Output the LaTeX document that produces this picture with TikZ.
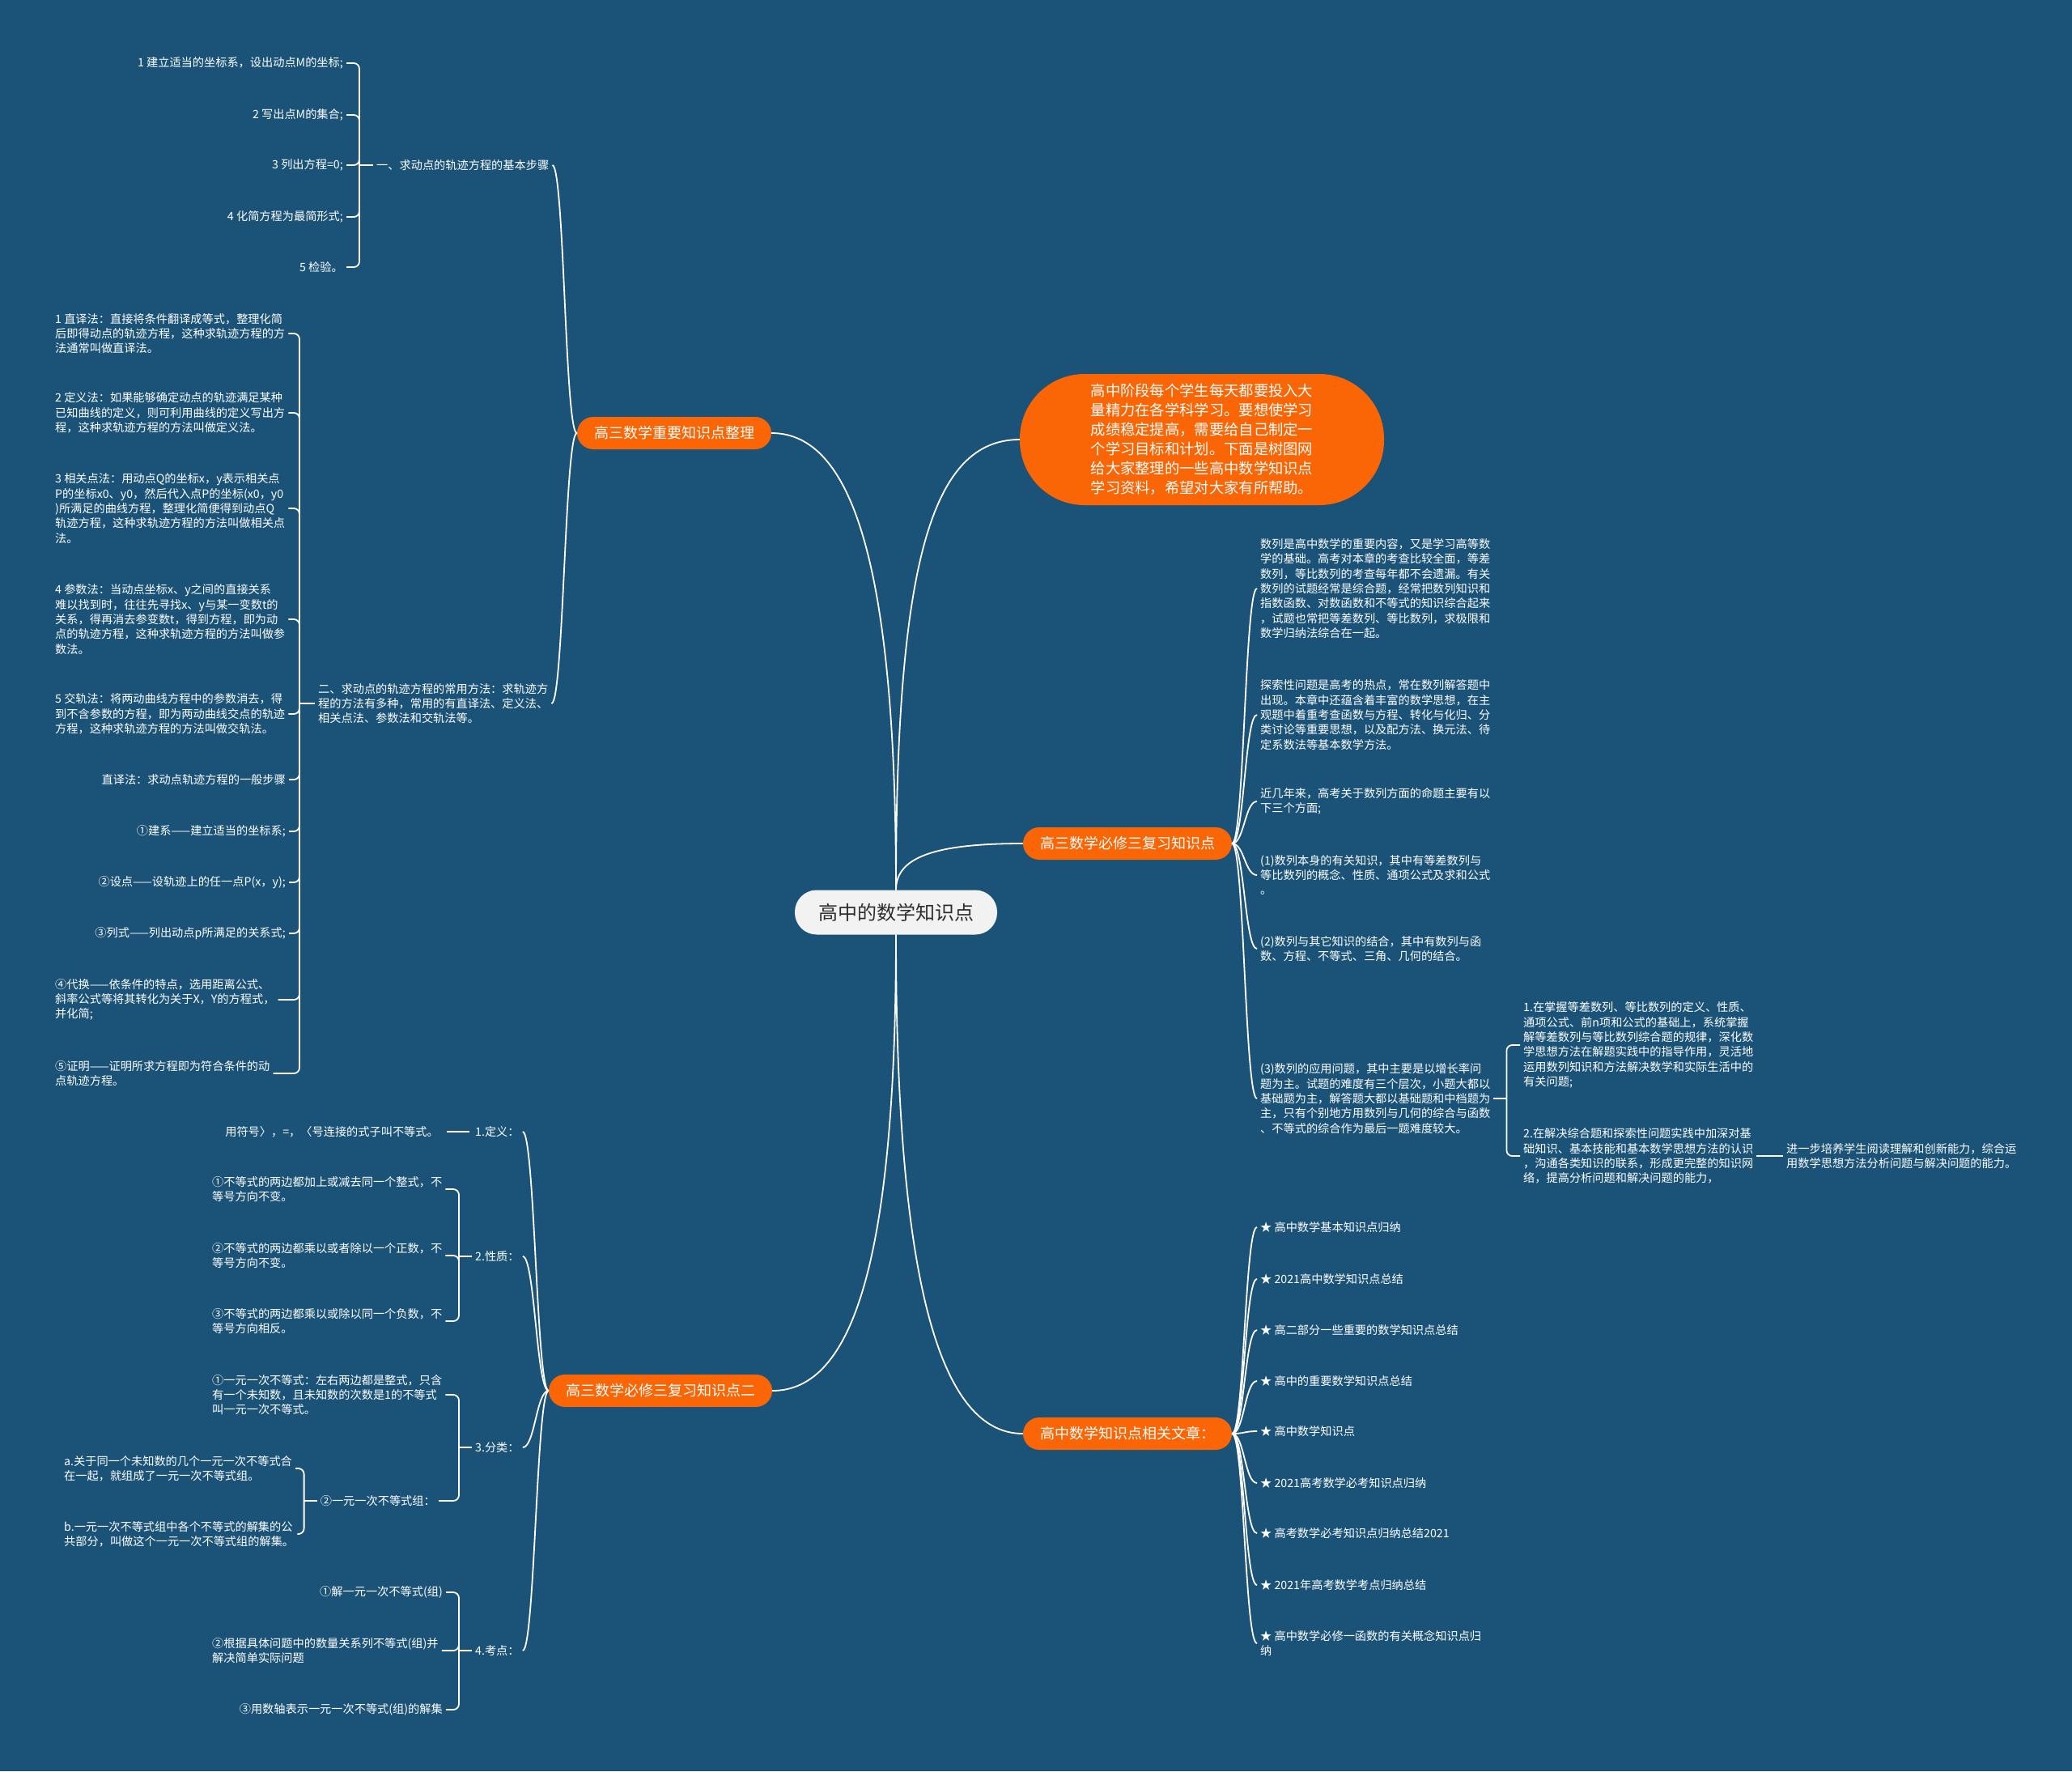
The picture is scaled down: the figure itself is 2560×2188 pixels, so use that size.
\documentclass[tikz,border=0pt]{standalone}
\usepackage{fontspec}
\setmainfont{Noto Sans CJK SC}
\usepackage{tikz}
\usetikzlibrary{calc}
\definecolor{DeepB} {RGB}{26, 83, 119}
\definecolor{Orng}  {RGB}{250,101,  5}
\definecolor{PaleG} {RGB}{242,242,242}
\definecolor{InkD}  {RGB}{45,  45, 45}

\begin{document}
\begin{tikzpicture}[x=1pt,y=-1pt,
  link/.style={white,line width=1.8pt},
  brk/.style={white,line width=1.8pt,rounded corners=7pt},
  leaf/.style={text=white,font=\fontsize{14.2}{18.3}\selectfont,inner sep=4pt,align=left},
  topic/.style={fill=Orng,text=white,font=\fontsize{18}{24}\selectfont,rounded corners=20pt,
    minimum height=40pt,inner xsep=21pt,inner ysep=0pt}]
\fill[DeepB] (0,0) rectangle (2560,2188);

\node[fill=PaleG,text=InkD,font=\fontsize{24}{28}\selectfont,minimum width=250pt,
  minimum height=55pt,rounded corners=27pt] (root) at (1107,1127) {高中的数学知识点};
\node[topic] (b1) at (833,535) {高三数学重要知识点整理};
\node[topic] (b2) at (816,1718) {高三数学必修三复习知识点二};
\node[topic] (b3) at (1393,1042) {高三数学必修三复习知识点};
\node[topic] (b4) at (1393,1771) {高中数学知识点相关文章：};
\node[fill=Orng,text=white,font=\fontsize{18.3}{24}\selectfont,align=left,minimum width=450pt,
  minimum height=162pt,rounded corners=80pt] (intro) at (1485,543)
  {高中阶段每个学生每天都要投入大\\量精力在各学科学习。要想使学习\\成绩稳定提高，需要给自己制定一\\个学习目标和计划。下面是树图网\\给大家整理的一些高中数学知识点\\学习资料，希望对大家有所帮助。};

\draw[link] (root.north) .. controls +(0,-400) and +(100,0) .. (b1.east);
\draw[link] (root.north) .. controls +(0,-400) and +(-110,0) .. (intro.west);
\draw[link] (root.north) .. controls +(0,-40) and +(-110,0) .. (b3.west);
\draw[link] (root.south) .. controls +(0,400) and +(100,0) .. (b2.east);
\draw[link] (root.south) .. controls +(0,400) and +(-110,0) .. (b4.west);

\node[leaf,anchor=west] (g1) at (461,204) {一、求动点的轨迹方程的基本步骤};
\node[leaf,anchor=west] (g2) at (389,869) {二、求动点的轨迹方程的常用方法：求轨迹方\\程的方法有多种，常用的有直译法、定义法、\\相关点法、参数法和交轨法等。};
\foreach \n in {g1,g2}
  \draw[link] (b1.west) .. controls +(-15,0) and +(15,0) .. (\n.east);

\foreach \n/\y/\t in {s1/78/{1 建立适当的坐标系，设出动点M的坐标;},s2/142/{2 写出点M的集合;},
    s3/204/{3 列出方程=0;},s4/268/{4 化简方程为最简形式;},s5/330/{5 检验。}}
  \node[leaf,anchor=east] (\n) at (428,\y) {\t};
\draw[link] (g1.west) -- ++(-17,0) coordinate (g1j);
\foreach \n in {s1,s2,s3,s4,s5}
  \draw[brk] (g1j) |- (\n.east);

\foreach \n/\a/\x/\y/\t in {
    m1/west/64/412/{1 直译法：直接将条件翻译成等式，整理化简\\后即得动点的轨迹方程，这种求轨迹方程的方\\法通常叫做直译法。},
    m2/west/64/510/{2 定义法：如果能够确定动点的轨迹满足某种\\已知曲线的定义，则可利用曲线的定义写出方\\程，这种求轨迹方程的方法叫做定义法。},
    m3/west/64/628/{3 相关点法：用动点Q的坐标x，y表示相关点\\P的坐标x0、y0，然后代入点P的坐标(x0，y0\\)所满足的曲线方程，整理化简便得到动点Q\\轨迹方程，这种求轨迹方程的方法叫做相关点\\法。},
    m4/west/64/765/{4 参数法：当动点坐标x、y之间的直接关系\\难以找到时，往往先寻找x、y与某一变数t的\\关系，得再消去参变数t，得到方程，即为动\\点的轨迹方程，这种求轨迹方程的方法叫做参\\数法。},
    m5/west/64/882/{5 交轨法：将两动曲线方程中的参数消去，得\\到不含参数的方程，即为两动曲线交点的轨迹\\方程，这种求轨迹方程的方法叫做交轨法。},
    m6/east/357/963/{直译法：求动点轨迹方程的一般步骤},
    m7/east/357/1027/{①建系——建立适当的坐标系;},
    m8/east/357/1090/{②设点——设轨迹上的任一点P(x，y);},
    m9/east/357/1153/{③列式——列出动点p所满足的关系式;},
    m10/west/64/1235/{④代换——依条件的特点，选用距离公式、\\斜率公式等将其转化为关于X，Y的方程式，\\并化简;},
    m11/west/64/1326/{⑤证明——证明所求方程即为符合条件的动\\点轨迹方程。}}
  \node[leaf,anchor=\a] (\n) at (\x,\y) {\t};
\draw[link] (g2.west) -- ++(-19,0) coordinate (g2j);
\foreach \n in {m1,m2,m3,m4,m5,m6,m7,m8,m9,m10,m11}
  \draw[brk] (g2j) |- (\n.east);

\foreach \n/\y/\t in {d1/1398/{1.定义：},d2/1552/{2.性质：},d3/1788/{3.分类：},d4/2039/{4.考点：}}
  \node[leaf,anchor=west] (\n) at (583,\y) {\t};
\foreach \n in {d1,d2,d3,d4}
  \draw[link] (b2.west) .. controls +(-15,0) and +(15,0) .. (\n.east);

\node[leaf,anchor=east] (d0) at (546,1398) {用符号〉，=，〈号连接的式子叫不等式。};
\draw[link,shorten <=3pt,shorten >=6pt] (d1.west) -- (d0.east);

\foreach \n/\a/\x/\y/\t in {
    p1/west/258/1469/{①不等式的两边都加上或减去同一个整式，不\\等号方向不变。},
    p2/west/258/1551/{②不等式的两边都乘以或者除以一个正数，不\\等号方向不变。},
    p3/west/258/1632/{③不等式的两边都乘以或除以同一个负数，不\\等号方向相反。},
    k1/west/258/1723/{①一元一次不等式：左右两边都是整式，只含\\有一个未知数，且未知数的次数是1的不等式\\叫一元一次不等式。},
    k2/east/542/1854/{②一元一次不等式组：},
    ka/west/75/1814/{a.关于同一个未知数的几个一元一次不等式合\\在一起，就组成了一元一次不等式组。},
    kb/west/75/1895/{b.一元一次不等式组中各个不等式的解集的公\\共部分，叫做这个一元一次不等式组的解集。},
    t1/east/551/1967/{①解一元一次不等式(组)},
    t2/west/258/2039/{②根据具体问题中的数量关系列不等式(组)并\\解决简单实际问题},
    t3/east/551/2112/{③用数轴表示一元一次不等式(组)的解集}}
  \node[leaf,anchor=\a] (\n) at (\x,\y) {\t};
\draw[link] (d2.west) -- ++(-16,0) coordinate (d2j);
\draw[link] (d3.west) -- ++(-16,0) coordinate (d3j);
\draw[link] (d4.west) -- ++(-16,0) coordinate (d4j);
\draw[link] (k2.west) -- ++(-16,0) coordinate (k2j);
\foreach \n in {p1,p2,p3} \draw[brk] (d2j) |- (\n.east);
\foreach \n in {k1,k2} \draw[brk] (d3j) |- (\n.east);
\foreach \n in {ka,kb} \draw[brk] (k2j) |- (\n.east);
\foreach \n in {t1,t2,t3} \draw[brk] (d4j) |- (\n.east);

\foreach \n/\y/\t in {
    r1/727/{数列是高中数学的重要内容，又是学习高等数\\学的基础。高考对本章的考查比较全面，等差\\数列，等比数列的考查每年都不会遗漏。有关\\数列的试题经常是综合题，经常把数列知识和\\指数函数、对数函数和不等式的知识综合起来\\，试题也常把等差数列、等比数列，求极限和\\数学归纳法综合在一起。},
    r2/883/{探索性问题是高考的热点，常在数列解答题中\\出现。本章中还蕴含着丰富的数学思想，在主\\观题中着重考查函数与方程、转化与化归、分\\类讨论等重要思想，以及配方法、换元法、待\\定系数法等基本数学方法。},
    r3/990/{近几年来，高考关于数列方面的命题主要有以\\下三个方面;},
    r4/1081/{(1)数列本身的有关知识，其中有等差数列与\\等比数列的概念、性质、通项公式及求和公式\\。},
    r5/1172/{(2)数列与其它知识的结合，其中有数列与函\\数、方程、不等式、三角、几何的结合。},
    r6/1357/{(3)数列的应用问题，其中主要是以增长率问\\题为主。试题的难度有三个层次，小题大都以\\基础题为主，解答题大都以基础题和中档题为\\主，只有个别地方用数列与几何的综合与函数\\、不等式的综合作为最后一题难度较大。}}
  \node[leaf,anchor=west] (\n) at (1553,\y) {\t};
\foreach \n in {r1,r2,r3,r4,r5,r6}
  \draw[link] (b3.east) .. controls +(15,0) and +(-15,0) .. (\n.west);

\node[leaf,anchor=west] (r7) at (1878,1291) {1.在掌握等差数列、等比数列的定义、性质、\\通项公式、前n项和公式的基础上，系统掌握\\解等差数列与等比数列综合题的规律，深化数\\学思想方法在解题实践中的指导作用，灵活地\\运用数列知识和方法解决数学和实际生活中的\\有关问题;};
\node[leaf,anchor=west] (r8) at (1878,1428) {2.在解决综合题和探索性问题实践中加深对基\\础知识、基本技能和基本数学思想方法的认识\\，沟通各类知识的联系，形成更完整的知识网\\络，提高分析问题和解决问题的能力，};
\node[leaf,anchor=west] (r9) at (2203,1428) {进一步培养学生阅读理解和创新能力，综合运\\用数学思想方法分析问题与解决问题的能力。};
\draw[link] (r6.east) -- ++(16,0) coordinate (r6j);
\foreach \n in {r7,r8} \draw[brk] (r6j) |- (\n.west);
\draw[link] (r8.east) -- (r9.west);

\foreach \n/\y/\t in {w1/1516/{★ 高中数学基本知识点归纳},w2/1580/{★ 2021高中数学知识点总结},
    w3/1643/{★ 高二部分一些重要的数学知识点总结},w4/1706/{★ 高中的重要数学知识点总结},
    w5/1768/{★ 高中数学知识点},w6/1832/{★ 2021高考数学必考知识点归纳},
    w7/1894/{★ 高考数学必考知识点归纳总结2021},w8/1958/{★ 2021年高考数学考点归纳总结},
    w9/2030/{★ 高中数学必修一函数的有关概念知识点归\\纳}}
  \node[leaf,anchor=west] (\n) at (1553,\y) {\t};
\foreach \n in {w1,w2,w3,w4,w5,w6,w7,w8,w9}
  \draw[link] (b4.east) .. controls +(15,0) and +(-15,0) .. (\n.west);
\end{tikzpicture}
\end{document}
